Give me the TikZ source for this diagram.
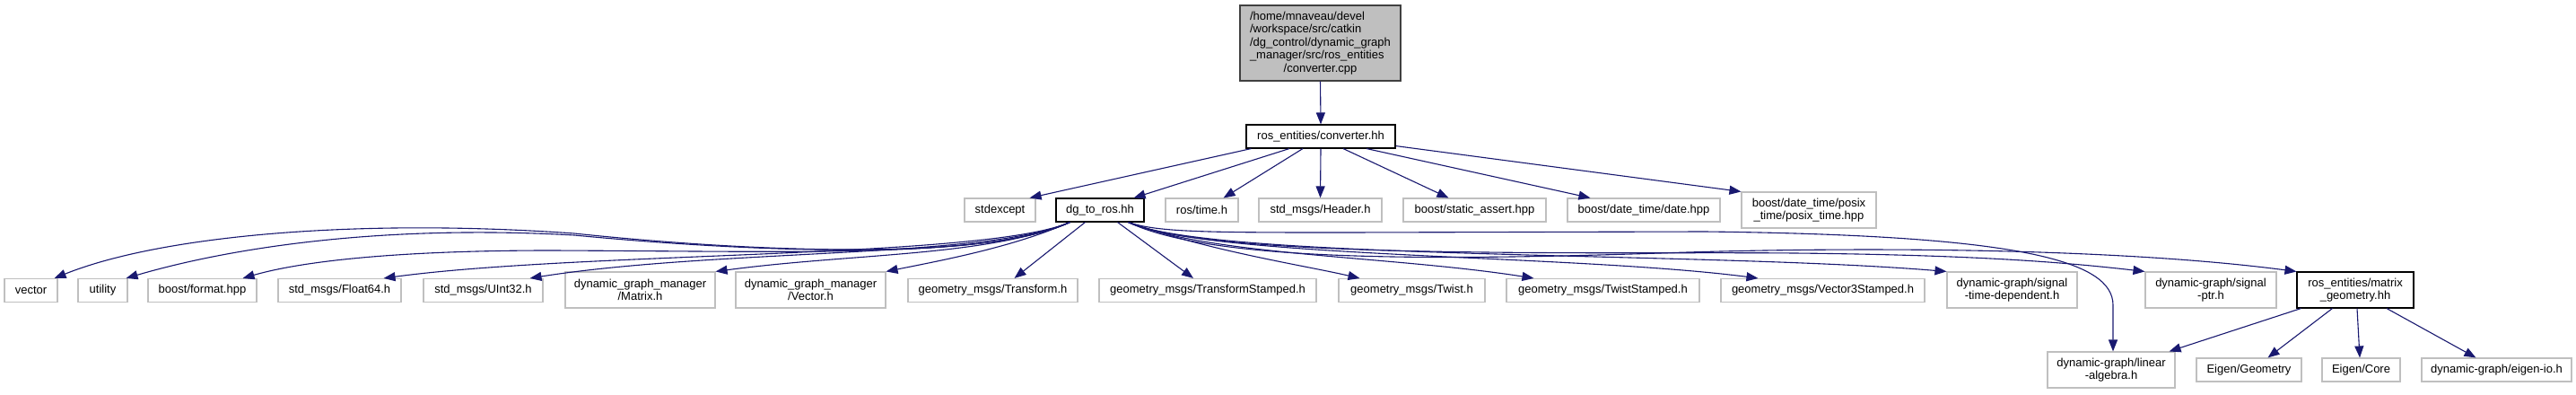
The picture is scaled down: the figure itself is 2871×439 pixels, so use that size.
\documentclass[tikz,border=0pt]{standalone}
\usepackage{fontspec}
\setmainfont{Liberation Sans}
\usetikzlibrary{arrows.meta}
\definecolor{edgeblue}{HTML}{191970}
\definecolor{leafgray}{HTML}{BFBFBF}
\definecolor{topborder}{HTML}{404040}
\begin{document}
\begin{tikzpicture}[x=1pt,y=-1pt,
  box/.style={draw, rectangle, inner sep=0pt, align=center, font=\fontsize{13}{14.5}\selectfont, line width=1.1pt},
  leaf/.style={box, draw=leafgray},
  docbox/.style={box, draw=black},
  edge/.style={draw=edgeblue, line width=1.1pt, -{Triangle[length=13pt,width=10pt]}}
]
\fill[white] (0,0) rectangle (2871,439);
\useasboundingbox (0,0) rectangle (2871,439);

% row 1
\node[box, fill=leafgray, draw=topborder, minimum width=179, minimum height=84, text width=157pt, inner xsep=11pt, align=left] (top) at (1471.5,48)
  {/home/mnaveau/devel\\/workspace/src/catkin\\/dg\_control/dynamic\_graph\\\_manager/src/ros\_entities\\\makebox[\linewidth]{/converter.cpp}};
% row 2
\node[docbox, minimum width=166, minimum height=26] (conv) at (1472,152) {ros\_entities/converter.hh};
% row 3
\node[leaf, minimum width=79, minimum height=26] (stdx) at (1114.5,234) {stdexcept};
\node[docbox, minimum width=98, minimum height=26] (dg) at (1226,234) {dg\_to\_ros.hh};
\node[leaf, minimum width=81, minimum height=26] (rt) at (1339.5,234) {ros/time.h};
\node[leaf, minimum width=137, minimum height=26] (hdr) at (1471.5,234) {std\_msgs/Header.h};
\node[leaf, minimum width=159, minimum height=26] (sa) at (1643.5,234) {boost/static\_assert.hpp};
\node[leaf, minimum width=170, minimum height=26] (date) at (1832,234) {boost/date\_time/date.hpp};
\node[leaf, minimum width=150, minimum height=40] (posix) at (2016,234) {boost/date\_time/posix\\\_time/posix\_time.hpp};
% row 4
\node[leaf, minimum width=59, minimum height=26] (vec) at (34.5,323.5) {vector};
\node[leaf, minimum width=55, minimum height=26] (util) at (114.5,323.5) {utility};
\node[leaf, minimum width=121, minimum height=26] (fmt) at (225.5,323.5) {boost/format.hpp};
\node[leaf, minimum width=137, minimum height=26] (f64) at (378.5,323.5) {std\_msgs/Float64.h};
\node[leaf, minimum width=133, minimum height=26] (u32) at (538.5,323.5) {std\_msgs/UInt32.h};
\node[leaf, minimum width=167, minimum height=40] (mat) at (713.5,323) {dynamic\_graph\_manager\\/Matrix.h};
\node[leaf, minimum width=167, minimum height=40] (vecd) at (903.5,323) {dynamic\_graph\_manager\\/Vector.h};
\node[leaf, minimum width=189, minimum height=26] (tf) at (1106.5,323.5) {geometry\_msgs/Transform.h};
\node[leaf, minimum width=242, minimum height=26] (tfs) at (1346,323.5) {geometry\_msgs/TransformStamped.h};
\node[leaf, minimum width=163, minimum height=26] (tw) at (1573.5,323.5) {geometry\_msgs/Twist.h};
\node[leaf, minimum width=215, minimum height=26] (tws) at (1786.5,323.5) {geometry\_msgs/TwistStamped.h};
\node[leaf, minimum width=227, minimum height=26] (v3s) at (2031.5,323.5) {geometry\_msgs/Vector3Stamped.h};
\node[leaf, minimum width=145, minimum height=40] (std) at (2242.5,323) {dynamic-graph/signal\\-time-dependent.h};
\node[leaf, minimum width=146, minimum height=40] (sp) at (2464,323) {dynamic-graph/signal\\-ptr.h};
\node[docbox, minimum width=130, minimum height=40] (mg) at (2625,323) {ros\_entities/matrix\\\_geometry.hh};
% row 5
\node[leaf, minimum width=142, minimum height=40] (la) at (2353,412) {dynamic-graph/linear\\-algebra.h};
\node[leaf, minimum width=117, minimum height=26] (eg) at (2506.5,412) {Eigen/Geometry};
\node[leaf, minimum width=87, minimum height=26] (ec) at (2631.5,412) {Eigen/Core};
\node[leaf, minimum width=167, minimum height=26] (eio) at (2782.5,412) {dynamic-graph/eigen-io.h};

% edges
\draw[edge] (top.south) -- (conv.north);

\draw[edge] ([xshift=6]conv.south west) -- ([xshift=-7]stdx.north east);
\draw[edge] ([xshift=-35]conv.south) -- ([xshift=-12]dg.north east);
\draw[edge] ([xshift=-20]conv.south) -- ([xshift=-17]rt.north east);
\draw[edge] (conv.south) -- (hdr.north);
\draw[edge] ([xshift=25]conv.south) -- ([xshift=51]sa.north west);
\draw[edge] ([xshift=51]conv.south) -- ([xshift=26]date.north west);
\draw[edge] ([yshift=3]conv.south east) -- (posix.north west);

\coordinate (dgL) at ([xshift=16]dg.south west);
\coordinate (dgR) at ([xshift=-18]dg.south east);

\draw[edge] (dgL) .. controls (1100,290) and (850,282) .. (640,260) .. controls (400,243) and (180,262) .. ([xshift=-4]vec.north east);
\draw[edge] (dgL) .. controls (1100,290) and (850,282) .. (640,262) .. controls (430,250) and (260,275) .. ([xshift=-2]util.north east);
\draw[edge] (dgL) .. controls (1100,288) and (900,280) .. (613,279) .. controls (450,279) and (340,290) .. ([xshift=-16]fmt.north east);
\draw[edge] (dgL) .. controls (1100,288) and (650,280) .. ([xshift=-20]f64.north east);
\draw[edge] (dgL) .. controls (1100,288) and (800,277) .. ([xshift=-15]u32.north east);
\draw[edge] (dgL) .. controls (1100,286) and (950,282) .. (mat.north east);
\draw[edge] (dgL) .. controls (1130,275) and (1050,290) .. (vecd.north east);
\draw[edge] ([xshift=33]dg.south west) -- ([xshift=24]tf.north);
\draw[edge] ([xshift=-30]dg.south east) -- ([xshift=-16]tfs.north);
\draw[edge] (dgR) .. controls (1350,280) and (1450,295) .. ([xshift=-58]tw.north);
\draw[edge] (dgR) .. controls (1350,285) and (1550,285) .. ([xshift=31]tws.north west);
\draw[edge] (dgR) .. controls (1350,288) and (1750,283) .. ([xshift=42]v3s.north west);
\draw[edge] (dgR) .. controls (1350,290) and (1900,280) .. (std.north west);
\draw[edge] (dgR) .. controls (1350,290) and (1800,280) .. (2000,282) .. controls (2200,284) and (2300,292) .. (sp.north west);
\draw[edge] (dgR) .. controls (1350,292) and (1600,290) .. (1850,282) .. controls (2050,275) and (2350,275) .. (mg.north west);
\draw[edge] (dgR) .. controls (1290,259) and (1350,259) .. (1500,259) -- (1900,258) .. controls (2250,262) and (2355,290) .. (2355,340) -- ([xshift=2]la.north);

\draw[edge] ([xshift=5]mg.south west) -- ([xshift=-7]la.north east);
\draw[edge] ([xshift=40]mg.south west) -- ([xshift=21]eg.north);
\draw[edge] ([xshift=2]mg.south) -- ([xshift=-1.5]ec.north);
\draw[edge] ([xshift=35]mg.south) -- ([xshift=61]eio.north west);
\end{tikzpicture}
\end{document}
